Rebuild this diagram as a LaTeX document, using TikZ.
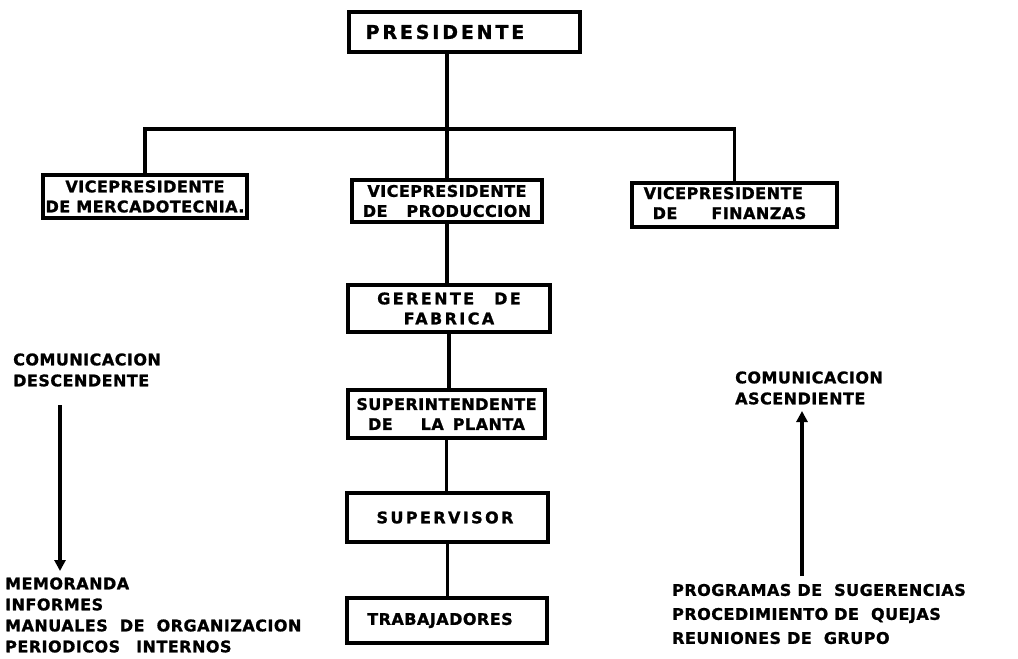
\documentclass[tikz,border=0pt]{standalone}
\usepackage{fontspec}
\setmainfont{DejaVu Sans}[LetterSpace=3, BoldFeatures={FakeBold=1.2}]
\newfontfamily\spreadfont{DejaVu Sans}[LetterSpace=15, BoldFeatures={FakeBold=1.2}]
\usepackage{tikz}
\usetikzlibrary{arrows.meta,positioning}

\begin{document}
\begin{tikzpicture}[
  x=1pt, y=-1pt,
  post/.style={rectangle, draw=black, line width=3.2pt, fill=white, align=center,
    inner sep=0pt, font=\fontsize{16}{20}\selectfont\bfseries},
  note/.style={anchor=west, align=left, inner sep=0pt,
    font=\fontsize{16}{21}\selectfont\bfseries},
  link/.style={line width=3.2pt, draw=black},
  flow/.style={-{Triangle[length=11pt, width=11pt]}, line width=4.2pt, draw=black}
]
  \useasboundingbox (0,0) rectangle (1018,659);

  % jerarquia
  \node[post, minimum width=231pt, minimum height=40pt,
    font=\fontsize{19}{22}\selectfont\bfseries\spreadfont] (pres) at (464.5,32) {PRESIDENTE\kern39pt};
  \node[post, minimum width=204pt, minimum height=43pt] (vpm) at (145,196.5)
    {VICEPRESIDENTE\\DE MERCADOTECNIA.};
  \node[post, minimum width=190pt, minimum height=42pt] (vpp) at (447,201)
    {VICEPRESIDENTE\\DE\hspace{19pt}PRODUCCION};
  \node[post, minimum width=205pt, minimum height=44pt] (vpf) at (734.5,205)
    {\begin{tabular}{@{}l@{}}VICEPRESIDENTE\\\hspace*{9pt}DE\hspace{34pt}FINANZAS\end{tabular}\kern19pt};
  \node[post, minimum width=202pt, minimum height=47pt,
    font=\fontsize{16}{20}\selectfont\bfseries\spreadfont] (ger) at (449,308.5)
    {GERENTE\hspace{20pt}DE\\FABRICA};
  \node[post, minimum width=197pt, minimum height=48pt] (sup) at (446.5,414)
    {SUPERINTENDENTE\\DE\hspace{28pt}LA\hspace{9pt}PLANTA};
  \node[post, minimum width=201pt, minimum height=49pt,
    font=\fontsize{16}{20}\selectfont\bfseries\spreadfont] (svr) at (447.5,517.5) {SUPERVISOR\kern5pt};
  \node[post, minimum width=200pt, minimum height=45pt] (trab) at (447,620.5) {TRABAJADORES\kern14pt};

  \coordinate (bus) at (447,129);
  \draw[link] (pres.south -| vpp.north) -- (vpp.north);
  \draw[link] (vpm.north) |- (bus) -| (vpf.north);
  \foreach \a/\b in {vpp/ger, ger/sup, sup/svr, svr/trab}
    \draw[link] (\a.south) -- (\a.south |- \b.north);

  % comunicacion descendente
  \node[note] (down) at (13,370) {COMUNICACION\\DESCENDENTE};
  \node[note] (mediaDown) at (5,615)
    {MEMORANDA\\INFORMES\\MANUALES\ \ DE\ \ ORGANIZACION\\PERIODICOS\quad INTERNOS};
  \coordinate (downTop) at (60,405);
  \coordinate (downTip) at (60,571);
  \draw[flow] (downTop) -- (downTip);

  % comunicacion ascendente
  \node[note] (up) at (735,388) {COMUNICACION\\ASCENDIENTE};
  \node[note, font=\fontsize{16}{24}\selectfont\bfseries] (mediaUp) at (672,614)
    {PROGRAMAS\ DE\ \ SUGERENCIAS\\PROCEDIMIENTO\ DE\ \ QUEJAS\\REUNIONES\ DE\ \ GRUPO};
  \coordinate (upTail) at (802,576);
  \coordinate (upTip) at (802,411);
  \draw[flow] (upTail) -- (upTip);
\end{tikzpicture}
\end{document}
